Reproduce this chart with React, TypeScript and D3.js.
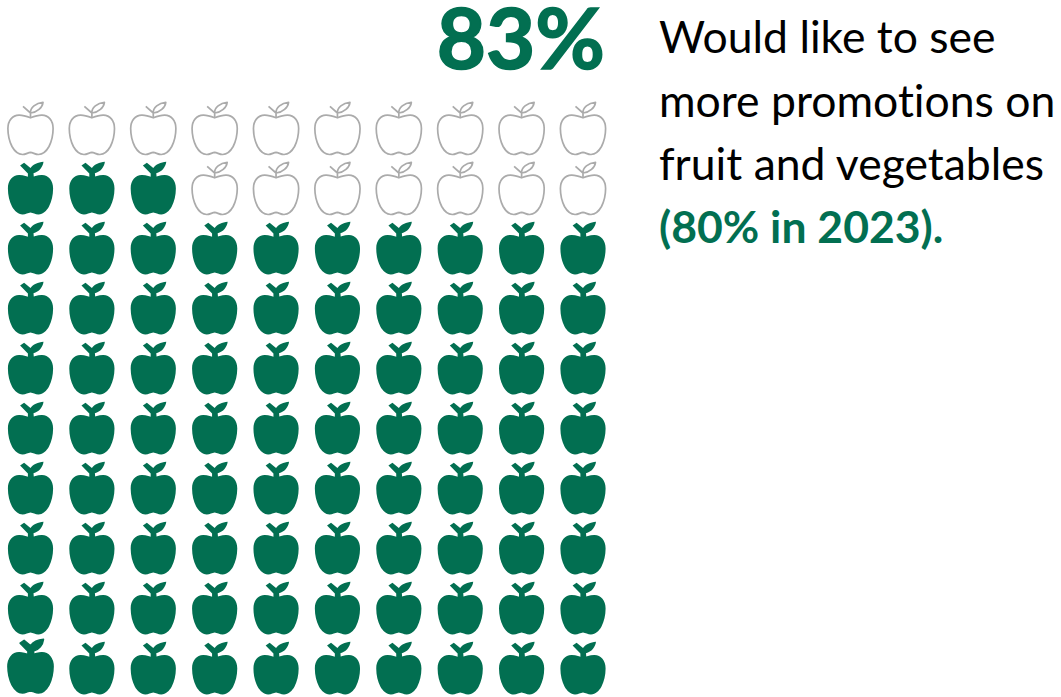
import React from "react";
import * as d3 from "d3";

const TOTAL = 100;
const FILLED = 83;
const COLUMNS = d3.range(10);
const ROWS = d3.range(10);
const HEADLINE = "83%";
const BODY_LINES = ["Would like to see", "more promotions on", "fruit and vegetables"];
const NOTE_LINE = "(80% in 2023).";

const GREEN = "#026f51";
const OUTLINE = "#ababab";
const FONT = "Lato, 'Open Sans', sans-serif";

// Apple glyph, origin at top centre of its cell; about 45 wide, 52 tall.
const BODY =
  "M0,15.8 C3,14.6 7,13 11.5,13.1 C18,13.2 22.6,18.5 22.6,26.5 C22.6,33.5 21,39.5 18.5,44.5 C16,49 12.5,52.3 8,52.5 C5,52.6 2.5,50.6 0,50.4 C-2.5,50.6 -5,52.6 -8,52.5 C-12.5,52.3 -16,49 -18.5,44.5 C-21,39.5 -22.6,33.5 -22.6,26.5 C-22.6,18.5 -18,13.2 -11.5,13.1 C-7,13 -3,14.6 0,15.8 Z";
const STEM_LEAF =
  "M-2.6,16 L-2.6,11.6 L-10.4,3.6 L-6.4,0.8 L0,6 C2.5,2.6 7.5,0.2 13,-0.2 C12.4,5 8.6,10 3,11.2 L3.4,16 Z";
const OUTLINE_STEM = "M0,15 L0,11 M0,11 L-7.5,4.3 M0,11 C-0.5,5.5 5.5,1 12.5,0.3 C12,5.5 6.5,10.5 0,11";

export default function App() {
  const x = d3.scalePoint<number>().domain(COLUMNS).range([30.5, 583]);
  const y = d3.scalePoint<number>().domain(ROWS).range([102, 642]);

  // Cells fill from the bottom row upward, left to right.
  const cells = d3.range(TOTAL).map((i) => ({
    col: i % 10,
    row: 9 - Math.floor(i / 10),
    filled: i < FILLED,
    first: i === 0,
  }));

  return (
    <svg
      width={1061}
      height={697}
      style={{ position: "absolute", left: 0, top: 0, background: "#fff", fontVariantLigatures: "none" }}
      fontFamily={FONT}
    >
      {cells.map((c) => (
        <g
          key={`${c.row}-${c.col}`}
          transform={`translate(${x(c.col)},${y(c.row)})`}
        >
          {c.filled ? (
            <g
              fill={GREEN}
              stroke={GREEN}
              strokeWidth={c.first ? 1.5 : 0}
              strokeLinejoin="round"
              transform={c.first ? "translate(0,-2.5) scale(1,1.02)" : undefined}
            >
              <path d={BODY} />
              <path d={STEM_LEAF} />
            </g>
          ) : (
            <g fill="none" stroke={OUTLINE} strokeWidth={1.7} strokeLinejoin="round">
              <path d={BODY} />
              <path d={OUTLINE_STEM} />
            </g>
          )}
        </g>
      ))}

      <text
        x={605}
        y={69}
        textAnchor="end"
        fontSize={85}
        fontWeight={700}
        fill={GREEN}
        stroke={GREEN}
        strokeWidth={1.6}
      >
        {HEADLINE}
      </text>

      {BODY_LINES.map((line, i) => (
        <text key={line} x={659} y={53 + i * 63.5} fontSize={44.5} fill="#000">
          {line}
        </text>
      ))}
      <text x={659} y={243} fontSize={44.5} fontWeight={700} fill={GREEN}>
        {NOTE_LINE}
      </text>
    </svg>
  );
}
